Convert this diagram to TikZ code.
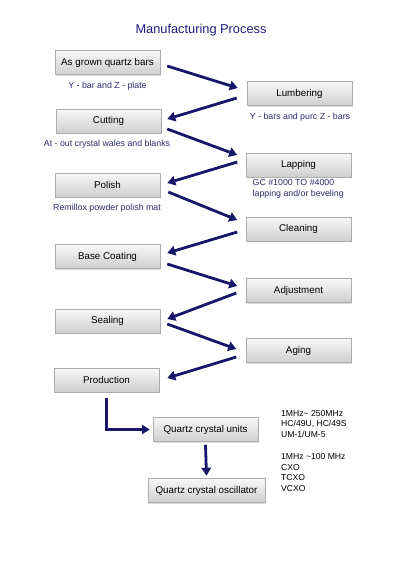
\documentclass[tikz,border=0pt]{standalone}
\usepackage{fontspec}
\setmainfont{Liberation Sans}
\usetikzlibrary{arrows.meta,shadows}
\definecolor{navy}{HTML}{17176A}
\definecolor{lbl}{HTML}{2B2B70}
\definecolor{ttl}{HTML}{1E1E78}
\tikzset{
  stepbox/.style={draw=gray!65, line width=0.5pt, top color=gray!6, bottom color=gray!38,
    minimum width=105pt, minimum height=24pt, inner sep=0pt, font=\fontsize{9.8}{11}\selectfont,
    drop shadow={shadow xshift=1pt, shadow yshift=-1pt, fill=gray!45, opacity=0.6}},
  arr/.style={draw=navy, line width=2.8pt, -{Triangle[length=8pt,width=9.5pt]}},
  lab/.style={text=lbl, font=\fontsize{8.8}{10}\selectfont, inner sep=0pt},
  spec/.style={text=black, font=\fontsize{8.6}{10.6}\selectfont, inner sep=0pt, align=left, anchor=north west},
}
\begin{document}
\begin{tikzpicture}[x=1pt,y=-1pt]
\useasboundingbox[fill=white] (0,0) rectangle (400,566);
\node[text=ttl, font=\fontsize{12.8}{14}\selectfont] (title) at (201,30) {Manufacturing Process};

\node[stepbox] (agq) at (107.5,62.5) {As grown quartz bars};
\node[stepbox] (lum) at (299.5,93.5) {Lumbering};
\node[stepbox] (cut) at (108.5,121) {Cutting};
\node[stepbox] (lap) at (298.5,165) {Lapping};
\node[stepbox] (pol) at (107.5,185) {Polish};
\node[stepbox] (cln) at (298.5,229) {Cleaning};
\node[stepbox] (bas) at (107.5,256.5) {Base Coating};
\node[stepbox] (adj) at (298.5,290.5) {Adjustment};
\node[stepbox] (sea) at (107.5,321) {Sealing};
\node[stepbox] (age) at (298.5,350.5) {Aging};
\node[stepbox] (pro) at (106.5,380) {Production};
\node[stepbox] (qcu) at (205.5,429.5) {Quartz crystal units};
\node[stepbox, minimum width=117pt] (qco) at (206.5,490.5) {Quartz crystal oscillator};

\node[lab] (l1) at (107.5,86) {Y - bar and Z - plate};
\node[lab] (l2) at (300,117) {Y - bars and purc Z - bars};
\node[lab] (l3) at (107,144) {At - out crystal wales and blanks};
\node[lab, align=left, anchor=north west, font=\fontsize{8.8}{10.8}\selectfont] (l4) at (252.5,179) {GC \#1000 TO \#4000\\lapping and/or beveling};
\node[lab] (l5) at (107,208) {Remillox powder polish mat};

\node[spec] (s1) at (281,410) {1MHz\textasciitilde{} 250MHz\\HC/49U, HC/49S\\UM-1/UM-5};
\node[spec] (s2) at (281,453.5) {1MHz \textasciitilde{}100 MHz\\CXO\\TCXO\\VCXO};

\draw[arr] ([xshift=7pt,yshift=-3.5pt]agq.east) -- ([xshift=-9pt,yshift=5.5pt]lum.west);
\draw[arr] ([xshift=-10pt,yshift=-4.5pt]lum.west) -- ([xshift=6pt,yshift=2pt]cut.east);
\draw[arr] ([xshift=6pt,yshift=-8pt]cut.east) -- ([xshift=-8.5pt,yshift=10pt]lap.west);
\draw[arr] ([xshift=-8.5pt,yshift=3pt]lap.west) -- ([xshift=7pt,yshift=2pt]pol.east);
\draw[arr] ([xshift=8pt,yshift=-7pt]pol.east) -- ([xshift=-8.5pt,yshift=9pt]cln.west);
\draw[arr] ([xshift=-8.5pt,yshift=-3pt]cln.west) -- ([xshift=7pt,yshift=3.5pt]bas.east);
\draw[arr] ([xshift=7pt,yshift=-7.5pt]bas.east) -- ([xshift=-8.5pt,yshift=4.5pt]adj.west);
\draw[arr] ([xshift=-9.5pt,yshift=-2.5pt]adj.west) -- ([xshift=7pt,yshift=2pt]sea.east);
\draw[arr] ([xshift=7pt,yshift=-3pt]sea.east) -- ([xshift=-9.5pt,yshift=1.5pt]age.west);
\draw[arr] ([xshift=-9.5pt,yshift=-6.5pt]age.west) -- ([xshift=8pt,yshift=2pt]pro.east);
\draw[arr] ([yshift=-6pt]pro.south) |- ([xshift=-3pt]qcu.west);
\draw[arr] ([yshift=-3pt]qcu.south) -- ([yshift=2.5pt]qco.north);
\end{tikzpicture}
\end{document}
